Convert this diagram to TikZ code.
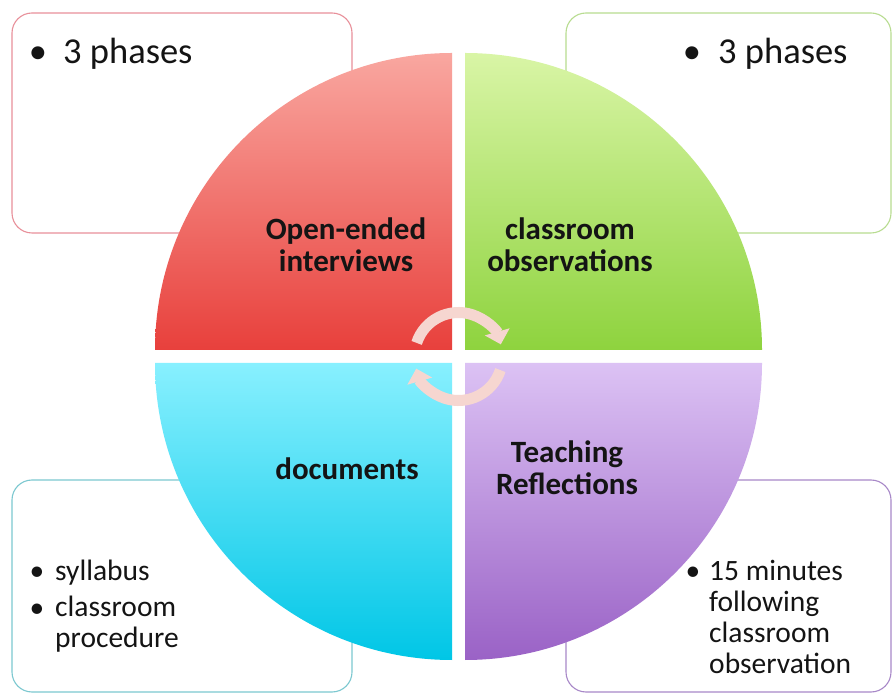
\documentclass[tikz,border=0pt]{standalone}
\usepackage{fontspec}
\setmainfont{Carlito}
\usetikzlibrary{arrows.meta}
\definecolor{redT}{HTML}{F9A7A0}
\definecolor{redB}{HTML}{E8403C}
\definecolor{greenT}{HTML}{D9F5A6}
\definecolor{greenB}{HTML}{8ED33E}
\definecolor{blueT}{HTML}{88F0FF}
\definecolor{blueB}{HTML}{00C6E6}
\definecolor{purpleT}{HTML}{DCC2F4}
\definecolor{purpleB}{HTML}{9A62C6}
\definecolor{redLine}{HTML}{E8909A}
\definecolor{greenLine}{HTML}{B8DC90}
\definecolor{blueLine}{HTML}{7CC8D0}
\definecolor{purpleLine}{HTML}{A888C8}
\definecolor{arrowCol}{HTML}{F6D6D0}
\definecolor{txt}{HTML}{141414}
\begin{document}
\begin{tikzpicture}[x=1pt,y=1pt,
  infobox/.style={line width=1.1pt, fill=white, rounded corners=20pt},
  bigtext/.style={font=\fontsize{36.5}{40}\selectfont, text=txt, inner sep=0pt, anchor=base west},
  bigbul/.style={font=\fontsize{36.5}{40}\selectfont, text=txt, inner sep=0pt, anchor=base},
  smalltext/.style={font=\fontsize{29.5}{31}\selectfont, text=txt, inner sep=0pt, anchor=base west, align=left},
  smallbul/.style={font=\fontsize{29.5}{31}\selectfont, text=txt, inner sep=0pt, anchor=base},
  qlabel/.style={font=\fontsize{31}{32}\selectfont\bfseries, text=txt, inner sep=0pt, anchor=base, align=center},
  cyc/.style={draw=arrowCol, line width=11pt, -{Triangle[width=25pt,length=13pt]}}
]
\useasboundingbox (0,0) rectangle (893,693);
\fill[white] (0,0) rectangle (893,693);

% background boxes
\draw[infobox, draw=redLine] (12,460) rectangle (352,680);
\draw[infobox, draw=greenLine] (566,460) rectangle (891,680);
\draw[infobox, draw=blueLine] (12,1) rectangle (352,213);
\draw[infobox, draw=purpleLine] (566,1) rectangle (891,213);

% quadrants
\shade[top color=redT, bottom color=redB] (452,343) -- (155,343) arc[start angle=180, end angle=90, radius=297] -- cycle;
\shade[top color=greenT, bottom color=greenB] (465,343) -- (465,640) arc[start angle=90, end angle=0, radius=297] -- cycle;
\shade[top color=blueT, bottom color=blueB] (452,330) -- (155,330) arc[start angle=180, end angle=270, radius=297] -- cycle;
\shade[top color=purpleT, bottom color=purpleB] (465,330) -- (762,330) arc[start angle=0, end angle=-90, radius=297] -- cycle;

% cycle arrows
\coordinate (c) at (458.5,336.5);
\draw[cyc] ([shift={(162:44)}]c) arc[start angle=162, end angle=16, radius=44];
\draw[cyc] ([shift={(-18:44)}]c) arc[start angle=-18, end angle=-164, radius=44];

% quadrant labels (anchor base = last line baseline)
\node[qlabel] (lred) at (346,421) {Open-ended\\interviews};
\node[qlabel] (lgreen) at (570,421) {classroom\\observations};
\node[qlabel] (lblue) at (347,213) {documents};
\node[qlabel] (lpurple) at (567,198) {Teaching\\Reflections};

% box texts
\node[bigbul] (b1) at (38,629) {\textbullet};
\node[bigtext] (t1) at (63,629) {3 phases};
\node[bigbul] (b2) at (692,629) {\textbullet};
\node[bigtext] (t2) at (718,629) {3 phases};

\node[smallbul] (b3) at (37,113) {\textbullet};
\node[smallbul] (b4) at (37,76) {\textbullet};
\node[smalltext] (t3) at (55,113) {syllabus};
\node[smalltext] (t4) at (55,46) {classroom\\procedure};

\node[smallbul] (b5) at (693,113) {\textbullet};
\node[smalltext] (t5) at (709,20) {15 minutes\\following\\classroom\\observation};
\end{tikzpicture}
\end{document}
